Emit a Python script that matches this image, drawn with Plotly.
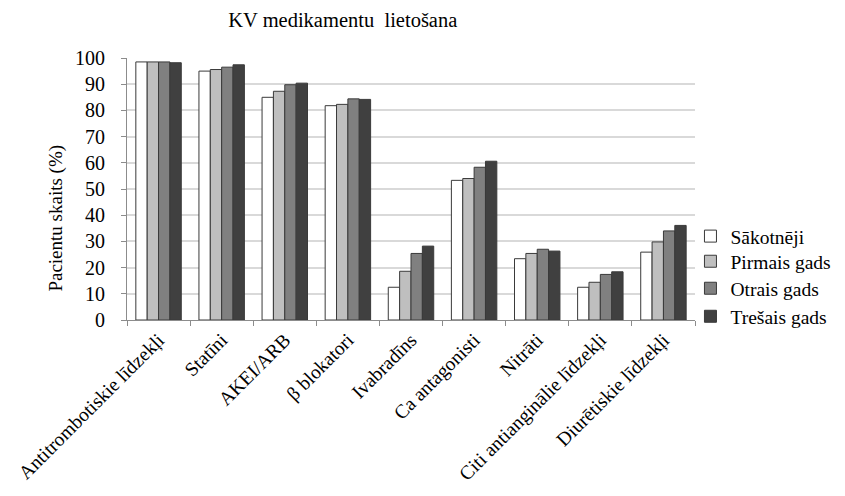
import plotly.graph_objects as go

categories = ["Antitrombotiskie līdzekļi", "Statīni", "AKEI/ARB", "β blokatori", "Ivabradīns",
              "Ca antagonisti", "Nitrāti", "Citi antianginālie līdzekļi", "Diurētiskie līdzekļi"]
series_names = ["Sākotnēji", "Pirmais gads", "Otrais gads", "Trešais gads"]
sakotneji = [98.5, 95.0, 85.0, 81.8, 12.5, 53.3, 23.4, 12.5, 25.9]
pirmais = [98.5, 95.6, 87.3, 82.3, 18.6, 54.0, 25.4, 14.4, 29.8]
otrais = [98.5, 96.5, 89.8, 84.4, 25.4, 58.3, 27.0, 17.4, 34.0]
tresais = [98.2, 97.4, 90.4, 84.2, 28.2, 60.6, 26.3, 18.4, 36.1]
y_ticks = [0, 10, 20, 30, 40, 50, 60, 70, 80, 90, 100]

colors = ["#FFFFFF", "#BFBFBF", "#808080", "#404040"]
values = [sakotneji, pirmais, otrais, tresais]
legend_ids = ["legend", "legend2", "legend3", "legend4"]
legend_y = [0.319, 0.223, 0.120, 0.013]

font = "Times New Roman, Liberation Serif, serif"

fig = go.Figure()
for name, vals, c, lid in zip(series_names, values, colors, legend_ids):
    fig.add_trace(go.Bar(x=categories, y=vals, name=name, marker_color=c,
                         marker_line_color="#3A3A3A", marker_line_width=1, legend=lid))

legend_common = dict(x=0.992, xanchor="left", yanchor="middle", bgcolor="rgba(0,0,0,0)",
                     font=dict(size=19.5, family=font, color="#000000"), itemwidth=30)
legends = {lid: dict(legend_common, y=ly) for lid, ly in zip(legend_ids, legend_y)}

fig.update_layout(
    width=837, height=488,
    paper_bgcolor="white", plot_bgcolor="white",
    font=dict(family=font, color="#000000", size=19),
    title=dict(text="KV medikamentu  lietošana", xref="container", x=0.4, xanchor="center",
               yref="container", y=0.975, yanchor="middle",
               font=dict(size=20.5, family=font, color="#000000")),
    margin=dict(l=119, r=150, t=50, b=176, autoexpand=False),
    barmode="group", bargap=0.28, bargroupgap=0,
    showlegend=True,
    **legends,
)
fig.add_annotation(text="Pacientu skaits (%)", textangle=-90, xref="paper", yref="paper",
                   x=0, xshift=-71, y=0.387, xanchor="center", yanchor="middle", showarrow=False,
                   font=dict(size=19, family=font, color="#000000"))
fig.update_xaxes(tickangle=-45, tickfont=dict(size=19.5, family=font, color="#000000"), showline=True,
                 linecolor="#8C8C8C", linewidth=1, ticks="outside", ticklen=5, tickcolor="#8C8C8C",
                 tickson="boundaries", showgrid=False, automargin=False)
fig.update_yaxes(range=[0, 100], tickvals=y_ticks, tickfont=dict(size=20, family=font, color="#000000"),
                 showline=True, linecolor="#8C8C8C", linewidth=1, ticks="outside", ticklen=5,
                 tickcolor="#8C8C8C", ticklabelstandoff=12, gridcolor="#D9D9D9", gridwidth=1.5,
                 zeroline=False, automargin=False)

fig.write_html("out.html")
